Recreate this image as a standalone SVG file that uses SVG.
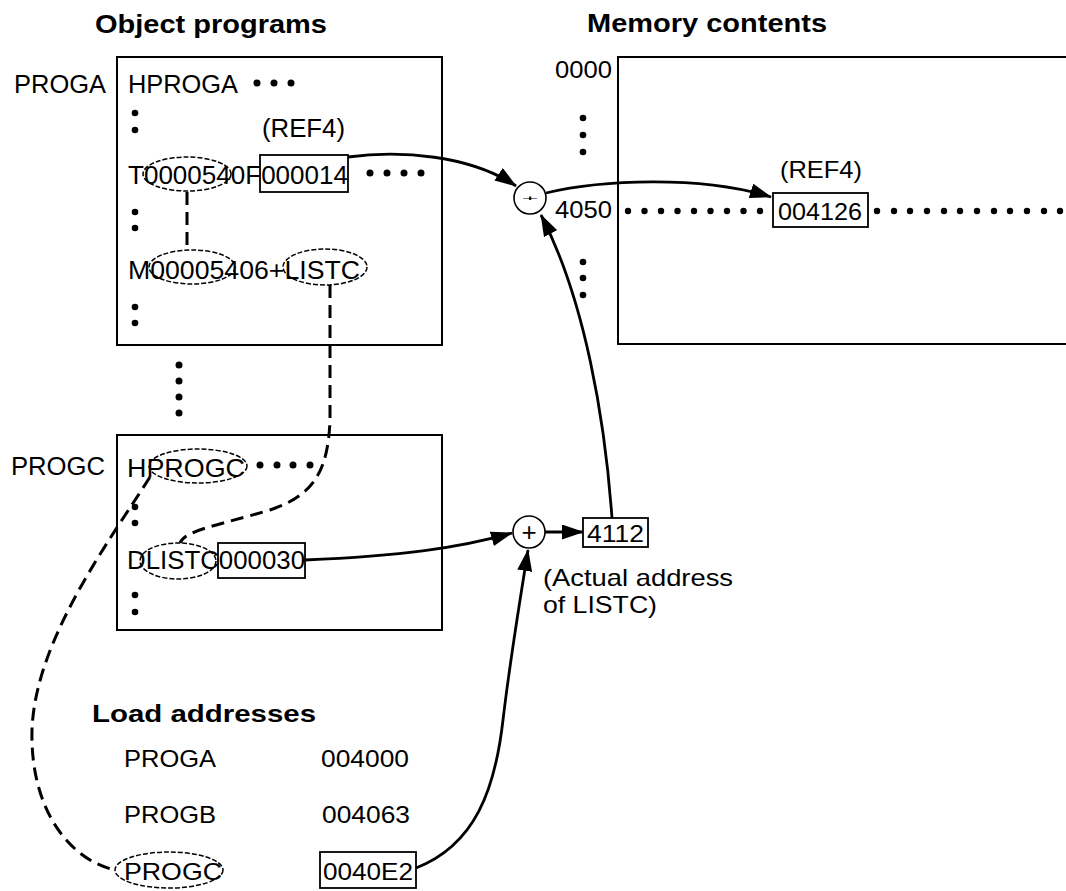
<svg xmlns="http://www.w3.org/2000/svg" width="1066" height="891" viewBox="0 0 1066 891">
<defs>
<marker id="ah" viewBox="0 0 22 15" refX="21" refY="7.5" markerWidth="22" markerHeight="15" markerUnits="userSpaceOnUse" orient="auto"><path d="M0,0 L22,7.5 L0,15 z" fill="#000"/></marker>
</defs>
<style>
text{font-family:"Liberation Sans",Arial,Helvetica,sans-serif;fill:#000}
.t{font-size:26px}
.s{font-size:24px}
.h{font-size:25px;font-weight:bold}
.box{fill:none;stroke:#000;stroke-width:2}
.sb{fill:none;stroke:#000;stroke-width:1.8}
.el{fill:none;stroke:#000;stroke-width:1.5;stroke-dasharray:5 2}
.dash{fill:none;stroke:#000;stroke-width:3;stroke-dasharray:13 7}
.arr{fill:none;stroke:#000;stroke-width:2.8;marker-end:url(#ah)}
.dot{fill:#000}
.op{fill:none;stroke:#000;stroke-width:1.6}
</style>
<rect width="1066" height="891" fill="#fff"/>

<g id="titles">
<text class="h" x="95" y="33" textLength="232" lengthAdjust="spacingAndGlyphs">Object programs</text>
<text class="h" x="587" y="32" textLength="240" lengthAdjust="spacingAndGlyphs">Memory contents</text>
</g>

<g id="proga">
<rect class="box" x="117" y="57" width="325" height="288"/>
<text class="t" x="14" y="93" textLength="92" lengthAdjust="spacingAndGlyphs">PROGA</text>
<text class="t" x="128" y="93" textLength="110" lengthAdjust="spacingAndGlyphs">HPROGA</text>
<circle class="dot" cx="257" cy="83" r="3.5"/><circle class="dot" cx="274" cy="83" r="3.5"/><circle class="dot" cx="291" cy="83" r="3.5"/>
<circle class="dot" cx="135" cy="113" r="3.3"/><circle class="dot" cx="135" cy="130" r="3.3"/>
<text class="t" x="262" y="137" textLength="83" lengthAdjust="spacingAndGlyphs">(REF4)</text>
<text class="t" x="128" y="184" textLength="220" lengthAdjust="spacingAndGlyphs">T0000540F000014</text>
<ellipse class="el" cx="187" cy="174" rx="44" ry="17"/>
<rect class="sb" x="260" y="155" width="88" height="37"/>
<circle class="dot" cx="370" cy="173" r="3.5"/><circle class="dot" cx="387" cy="173" r="3.5"/><circle class="dot" cx="404" cy="173" r="3.5"/><circle class="dot" cx="421" cy="173" r="3.5"/>
<circle class="dot" cx="135" cy="212" r="3.3"/><circle class="dot" cx="135" cy="228" r="3.3"/>
<text class="t" x="128" y="279" textLength="232" lengthAdjust="spacingAndGlyphs">M00005406+LISTC</text>
<ellipse class="el" cx="192" cy="267" rx="43" ry="17"/>
<ellipse class="el" cx="325" cy="267" rx="42" ry="18"/>
<circle class="dot" cx="135" cy="307" r="3.3"/><circle class="dot" cx="135" cy="323" r="3.3"/>
</g>

<g id="gap-dots">
<circle class="dot" cx="179" cy="365" r="3.5"/><circle class="dot" cx="179" cy="381" r="3.5"/><circle class="dot" cx="179" cy="397" r="3.5"/><circle class="dot" cx="179" cy="413" r="3.5"/>
</g>

<g id="progc">
<rect class="box" x="117" y="435" width="325" height="195"/>
<text class="t" x="11" y="475" textLength="94" lengthAdjust="spacingAndGlyphs">PROGC</text>
<text class="t" x="127" y="477" textLength="118" lengthAdjust="spacingAndGlyphs">HPROGC</text>
<ellipse class="el" cx="198" cy="466" rx="49" ry="17"/>
<circle class="dot" cx="260" cy="465" r="3.5"/><circle class="dot" cx="277" cy="465" r="3.5"/><circle class="dot" cx="293" cy="465" r="3.5"/><circle class="dot" cx="310" cy="465" r="3.5"/>
<circle class="dot" cx="135" cy="507" r="3.3"/><circle class="dot" cx="135" cy="523" r="3.3"/>
<text class="t" x="127" y="569" textLength="178" lengthAdjust="spacingAndGlyphs">DLISTC000030</text>
<ellipse class="el" cx="178" cy="561" rx="38" ry="18"/>
<rect class="sb" x="218" y="543" width="87" height="35"/>
<circle class="dot" cx="135" cy="595" r="3.3"/><circle class="dot" cx="135" cy="612" r="3.3"/>
</g>

<g id="memory">
<path class="box" d="M1070,57 H618 V344 H1070"/>
<text class="s" x="555" y="78" textLength="57" lengthAdjust="spacingAndGlyphs">0000</text>
<circle class="dot" cx="583" cy="118" r="3.3"/><circle class="dot" cx="583" cy="135" r="3.3"/><circle class="dot" cx="583" cy="152" r="3.3"/>
<text class="s" x="780" y="178" textLength="82" lengthAdjust="spacingAndGlyphs">(REF4)</text>
<text class="s" x="555" y="218" textLength="57" lengthAdjust="spacingAndGlyphs">4050</text>
<g class="dot">
<circle cx="628" cy="211" r="3.2"/><circle cx="644.5" cy="211" r="3.2"/><circle cx="661" cy="211" r="3.2"/><circle cx="677.5" cy="211" r="3.2"/><circle cx="694" cy="211" r="3.2"/><circle cx="710.5" cy="211" r="3.2"/><circle cx="727" cy="211" r="3.2"/><circle cx="743.5" cy="211" r="3.2"/><circle cx="760" cy="211" r="3.2"/>
<circle cx="877" cy="211" r="3.2"/><circle cx="894" cy="211" r="3.2"/><circle cx="910" cy="211" r="3.2"/><circle cx="927" cy="211" r="3.2"/><circle cx="944" cy="211" r="3.2"/><circle cx="960" cy="211" r="3.2"/><circle cx="977" cy="211" r="3.2"/><circle cx="994" cy="211" r="3.2"/><circle cx="1010" cy="211" r="3.2"/><circle cx="1027" cy="211" r="3.2"/><circle cx="1044" cy="211" r="3.2"/><circle cx="1060" cy="211" r="3.2"/>
</g>
<rect class="sb" x="773" y="193" width="95" height="34"/>
<text class="s" x="778" y="220" textLength="84" lengthAdjust="spacingAndGlyphs">004126</text>
<circle class="dot" cx="583" cy="262" r="3.3"/><circle class="dot" cx="583" cy="278" r="3.3"/><circle class="dot" cx="583" cy="295" r="3.3"/>
</g>

<g id="add-ref4">
<circle class="op" cx="530" cy="198" r="16"/>
<text x="530" y="207" font-size="26" text-anchor="middle" transform="translate(530,198) scale(1.1,0.3) translate(-530,-198)">+</text>
</g>

<g id="add-listc">
<circle class="op" cx="529" cy="532" r="16"/>
<text x="529" y="541" font-size="26" text-anchor="middle">+</text>
</g>

<g id="listc-value">
<rect class="sb" x="583" y="518" width="65" height="29"/>
<text class="s" x="587" y="542" textLength="57" lengthAdjust="spacingAndGlyphs">4112</text>
<text class="s" x="543" y="586" textLength="190" lengthAdjust="spacingAndGlyphs">(Actual address</text>
<text class="s" x="543" y="613" textLength="114" lengthAdjust="spacingAndGlyphs">of LISTC)</text>
</g>

<g id="load-addresses">
<text font-size="24" font-weight="bold" x="92" y="722" textLength="224" lengthAdjust="spacingAndGlyphs">Load addresses</text>
<text class="s" x="124" y="767" textLength="92" lengthAdjust="spacingAndGlyphs">PROGA</text>
<text class="s" x="321" y="767" textLength="88" lengthAdjust="spacingAndGlyphs">004000</text>
<text class="s" x="124" y="823" textLength="92" lengthAdjust="spacingAndGlyphs">PROGB</text>
<text class="s" x="322" y="823" textLength="88" lengthAdjust="spacingAndGlyphs">004063</text>
<text class="s" x="124" y="880" textLength="98" lengthAdjust="spacingAndGlyphs">PROGC</text>
<ellipse class="el" cx="169" cy="870" rx="54" ry="18"/>
<text class="s" x="323" y="880" textLength="90" lengthAdjust="spacingAndGlyphs">0040E2</text>
<rect class="sb" x="320" y="852" width="96" height="36"/>
</g>

<g id="connectors">
<path class="dash" d="M187,192 V250"/>
<path class="dash" d="M330,285 L330,420 C328,470 315,495 270,510 C220,525 185,530 180,543"/>
<path class="dash" d="M150,477 C110,540 35,640 32,730 C30,810 70,860 115,870"/>
<path class="arr" d="M348,157 C400,150 470,155 516,186"/>
<path class="arr" d="M546,193 C600,180 700,175 771,197"/>
<path class="arr" d="M612,518 C605,420 585,300 541,215"/>
<path class="arr" d="M305,560 C400,556 460,548 512,533"/>
<path class="arr" d="M545,532 L583,532"/>
<path class="arr" d="M416,868 C475,845 495,790 503,720 C510,660 520,600 528,550"/>
</g>
</svg>
